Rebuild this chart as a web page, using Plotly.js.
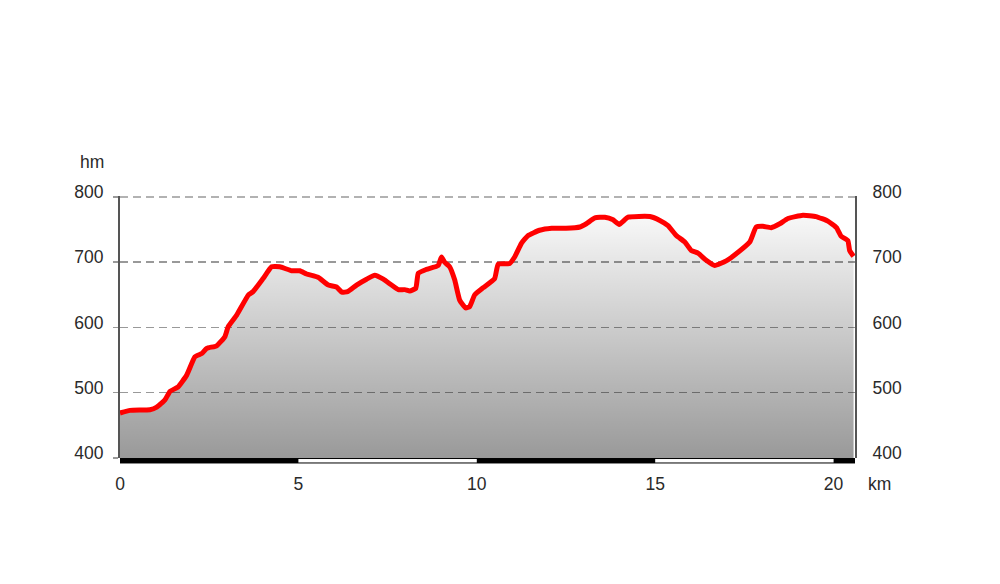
<!DOCTYPE html>
<html><head><meta charset="utf-8">
<script src="https://cdn.plot.ly/plotly-3.0.1.min.js"></script>
<style>html,body{margin:0;padding:0;background:#fff}#chart{width:1000px;height:584px}</style>
</head><body><div id="chart"></div>
<script>
const distKm = [0,0.28,0.84,1.03,1.26,1.4,1.63,1.87,2.1,2.29,2.43,2.71,2.94,3.03,3.27,3.6,3.73,4.01,4.25,4.48,4.81,5.04,5.23,5.55,5.84,6.07,6.22,6.38,6.63,6.91,7.14,7.38,7.61,7.8,7.98,8.12,8.29,8.36,8.59,8.92,9.01,9.1,9.24,9.38,9.52,9.69,9.8,9.94,10.18,10.5,10.6,10.92,11.06,11.25,11.44,11.76,12.1,12.5,12.89,13.07,13.31,13.59,13.82,13.99,14.24,14.85,15.13,15.36,15.59,15.83,16.01,16.2,16.43,16.67,16.99,17.27,17.65,17.83,18.02,18.25,18.49,18.72,19.14,19.51,19.84,20.08,20.21,20.4,20.45,20.56];
const elevM = [469,473,474,478,489,502,509,527,555,560,568,572,586,601,619,650,655,675,693,693,687,687,682,677,665,662,654,655,665,674,680,674,665,658,658,656,660,683,689,695,708,700,693,673,642,630,632,650,661,675,697,698,708,729,741,749,752,752,754,759,768,769,765,758,769,770,764,756,741,731,718,714,703,695,702,713,731,754,755,753,759,767,772,770,763,753,740,733,718,709];
const yTicks = [400,500,600,700,800];
const xTicks = [0,5,10,15,20];
const xMax = 20.6;
const yRange = [400, 801.5];
const barSegments = [[0,5],[10,15],[20,20.6]];

const font = {family:'"Liberation Sans", Arial, sans-serif', size:17.5, color:'#2a2a2a'};

const traces = [{
  x: distKm, y: elevM, type:'scatter', mode:'lines',
  line:{color:'#ff0000', width:5, shape:'spline', smoothing:0.4},
  fill:'tozeroy',
  fillgradient:{type:'vertical', start:400, stop:800,
    colorscale:[[0,'rgba(0,0,0,0.40)'],[1,'rgba(0,0,0,0)']]},
  hoverinfo:'skip', showlegend:false
},{
  x:[0], y:[400], yaxis:'y2', type:'scatter', mode:'markers',
  marker:{opacity:0}, hoverinfo:'skip', showlegend:false
}];

const topTick = yTicks[yTicks.length - 1];
const shapes = [{
  type:'line', xref:'x', yref:'y', x0:0, x1:xMax, y0:topTick, y1:topTick,
  layer:'below', line:{color:'#999', width:1.5, dash:'8px,5px'}
},{
  type:'rect', xref:'x', yref:'paper', x0:0, x1:xMax, y0:-0.019, y1:-0.002,
  fillcolor:'#fff', line:{color:'#000', width:1}
}];
barSegments.forEach(s => shapes.push({
  type:'rect', xref:'x', yref:'paper', x0:s[0], x1:s[1], y0:-0.019, y1:-0.002,
  fillcolor:'#000', line:{width:0}
}));

const layout = {
  width:1000, height:584,
  margin:{l:120, r:145, t:195.5, b:125.5},
  paper_bgcolor:'#fff', plot_bgcolor:'#fff',
  font: font,
  showlegend:false,
  xaxis:{range:[0,xMax], tickvals:xTicks, ticktext:xTicks.map(String),
    showgrid:false, zeroline:false, showline:false, ticks:'',
    ticklabelstandoff:13, tickfont:font, fixedrange:true},
  yaxis:{range:yRange, tickvals:yTicks, ticktext:yTicks.map(String),
    showgrid:true, gridcolor:'#999', gridwidth:1.5, griddash:'8px,5px',
    zeroline:false, showline:true, linecolor:'#555', linewidth:2,
    ticks:'outside', ticklen:5, tickcolor:'#999', tickwidth:1.5,
    ticklabelstandoff:6, ticklabelshift:-5, tickfont:font, fixedrange:true},
  yaxis2:{range:yRange, tickvals:yTicks, ticktext:yTicks.map(String),
    overlaying:'y', side:'right', showgrid:false, zeroline:false,
    showline:true, linecolor:'#555', linewidth:2, ticks:'',
    ticklabelstandoff:12, ticklabelshift:-5, tickfont:font, fixedrange:true},
  shapes: shapes,
  annotations:[
    {text:'hm', xref:'paper', yref:'paper', x:-0.038, y:1.13, xanchor:'center', yanchor:'middle', showarrow:false, font:font},
    {text:'km', xref:'paper', yref:'paper', x:1.034, y:-0.098, xanchor:'center', yanchor:'middle', showarrow:false, font:font}
  ]
};
Plotly.newPlot('chart', traces, layout, {displayModeBar:false, staticPlot:true});
</script></body></html>
